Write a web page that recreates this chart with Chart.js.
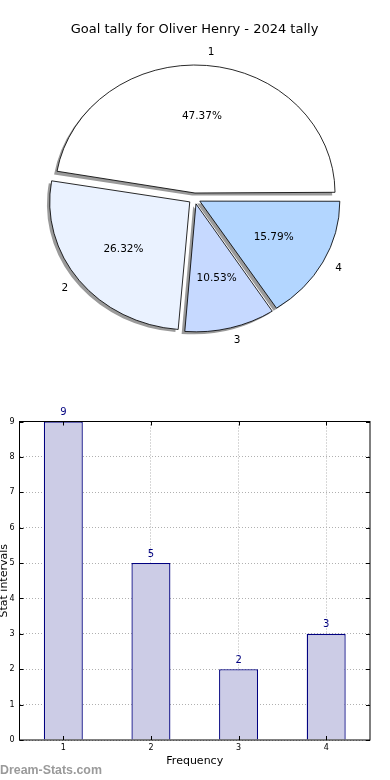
<!DOCTYPE html>
<html>
<head>
<meta charset="utf-8">
<script src="https://cdn.jsdelivr.net/npm/chart.js@4.4.1/dist/chart.umd.min.js"></script>
<style>
    html, body { margin: 0; padding: 0; background: #fff; }
    #quadro { position: relative; width: 390px; height: 780px; overflow: hidden; }
    #grafico-pizza { position: absolute; left: 0; top: 0; }
    #grafico-barra { position: absolute; left: 0; top: 390px; }
</style>
</head>
<body>
<div id="quadro">
    <canvas id="grafico-pizza" width="390" height="390"></canvas>
    <canvas id="grafico-barra" width="390" height="390"></canvas>
</div>
<script>
// dados
const titulo      = 'Goal tally for Oliver Henry - 2024 tally';
const categorias  = ['1', '2', '3', '4'];
const valores     = [9, 5, 2, 3];
const coresFatia  = ['#ffffff', '#eaf2ff', '#c6d9ff', '#b3d6ff'];
const ticksY      = [0, 1, 2, 3, 4, 5, 6, 7, 8, 9];
const tituloX     = 'Frequency';
const tituloY     = 'Stat intervals';
const marcaDagua  = 'Dream-Stats.com';

const FONTE = '"DejaVu Sans", sans-serif';
const ESCALA_X = 1.094;     // a pizza original e achatada (elipse)
const DESLOC   = 5.5;       // explode das fatias
const RAIO     = 128;

const total = valores.reduce((a, b) => a + b, 0);

// chart.js desenha no sentido horario; invertendo fica igual ao original
const pizzaLabels  = categorias.slice().reverse();
const pizzaValores = valores.slice().reverse();
const pizzaCores   = coresFatia.slice().reverse();

function aplicarElipse(chart) {
    const el = chart.getDatasetMeta(0).data[0];
    const ctx = chart.ctx;
    ctx.translate(el.x, 0);
    ctx.scale(ESCALA_X, 1);
    ctx.translate(-el.x, 0);
}

const pluginPizza = {
    id: 'pizzaElipse',
    beforeDatasetsDraw(chart) {
        const ctx = chart.ctx;
        const arcos = chart.getDatasetMeta(0).data;
        // o chart.js aumenta o raio das fatias estreitas quando ha offset; compensa
        arcos.forEach(a => {
            const circ = a.endAngle - a.startAngle;
            const fix = 1 - Math.sin(Math.min(Math.PI, circ));
            a.outerRadius = RAIO - DESLOC * fix;
        });
        ctx.save();
        aplicarElipse(chart);
        // sombras primeiro
        ctx.save();
        ctx.translate(-2.8 / ESCALA_X, 2.5);
        ctx.fillStyle = '#9a9a9a';
        arcos.forEach(a => {
            const meio = (a.startAngle + a.endAngle) / 2;
            const cx = a.x + Math.cos(meio) * DESLOC;
            const cy = a.y + Math.sin(meio) * DESLOC;
            ctx.beginPath();
            ctx.moveTo(cx, cy);
            ctx.arc(cx, cy, RAIO, a.startAngle, a.endAngle);
            ctx.closePath();
            ctx.fill();
        });
        ctx.restore();
    },
    afterDatasetsDraw(chart) {
        const ctx = chart.ctx;
        ctx.restore();
        ctx.save();
        ctx.fillStyle = '#000';
        ctx.font = '10.5px ' + FONTE;
        ctx.textBaseline = 'middle';
        chart.getDatasetMeta(0).data.forEach((a, i) => {
            const meio = (a.startAngle + a.endAngle) / 2;
            const c = Math.cos(meio), s = Math.sin(meio);
            const sx = a.x + c * DESLOC * ESCALA_X;
            const sy = a.y + s * DESLOC;
            const rx = RAIO * ESCALA_X, ry = RAIO;
            const pct = (pizzaValores[i] / total * 100).toFixed(2) + '%';
            ctx.textAlign = 'center';
            ctx.fillText(pct, sx + c * rx * 0.6, sy + s * ry * 0.6);
            ctx.textAlign = c >= 0 ? 'left' : 'right';
            ctx.fillText(pizzaLabels[i], sx + c * rx * 1.1, sy + s * ry * 1.1);
        });
        ctx.restore();
    }
};

new Chart(document.getElementById('grafico-pizza'), {
    type: 'pie',
    data: {
        labels: pizzaLabels,
        datasets: [{
            data: pizzaValores,
            backgroundColor: pizzaCores,
            borderColor: '#000',
            borderWidth: 0.8,
            offset: 4 * DESLOC,
            clip: false,
        }]
    },
    options: {
        responsive: false,
        animation: false,
        rotation: 90,
        radius: RAIO,
        layout: { padding: { left: 0, right: 1, top: 0, bottom: 40.6 } },
        plugins: {
            legend: { display: false },
            tooltip: { enabled: false },
            title: {
                display: true,
                text: titulo,
                color: '#000',
                font: { family: FONTE, size: 13, weight: 'normal', lineHeight: 1.2 },
                padding: { top: 22, bottom: 10 },
            }
        }
    },
    plugins: [pluginPizza]
});

const pluginBarra = {
    id: 'molduraBarra',
    afterDraw(chart) {
        const ctx = chart.ctx;
        const a = chart.chartArea;
        const sx = chart.scales.x, sy = chart.scales.y;
        ctx.save();
        ctx.strokeStyle = '#000';
        ctx.lineWidth = 1;
        ctx.strokeRect(a.left, a.top, a.right - a.left, a.bottom - a.top);
        // marcas para dentro, como no original
        ctx.beginPath();
        ticksY.forEach(v => {
            const y = Math.round(sy.getPixelForValue(v)) + 0.5;
            ctx.moveTo(a.left, y);  ctx.lineTo(a.left + 4, y);
            ctx.moveTo(a.right, y); ctx.lineTo(a.right - 4, y);
        });
        categorias.forEach((c, i) => {
            const x = Math.round(sx.getPixelForValue(i)) + 0.5;
            ctx.moveTo(x, a.bottom); ctx.lineTo(x, a.bottom - 4);
            ctx.moveTo(x, a.top);    ctx.lineTo(x, a.top + 4);
        });
        ctx.stroke();

        // valores acima das barras
        ctx.fillStyle = '#000080';
        ctx.font = '10px ' + FONTE;
        ctx.textAlign = 'center';
        ctx.textBaseline = 'alphabetic';
        chart.getDatasetMeta(0).data.forEach((b, i) => {
            ctx.fillText(String(valores[i]), b.x, b.y - 6.5);
        });

        ctx.fillStyle = '#9a9a9a';
        ctx.font = 'bold 12.4px "Liberation Sans", sans-serif';
        ctx.textAlign = 'left';
        ctx.fillText(marcaDagua, 0, 384.3);
        ctx.restore();
    }
};

new Chart(document.getElementById('grafico-barra'), {
    type: 'bar',
    data: {
        labels: categorias,
        datasets: [{
            data: valores,
            backgroundColor: '#ccccE6',
            borderColor: '#000080',
            borderWidth: 1.3,
            barPercentage: 0.445,
            categoryPercentage: 1,
        }]
    },
    options: {
        responsive: false,
        animation: false,
        layout: { padding: { left: 0, right: 20, top: 31.5, bottom: 0 } },
        plugins: {
            legend: { display: false },
            tooltip: { enabled: false },
        },
        scales: {
            x: {
                z: 1,
                grid: { offset: false, color: '#b0b0b0', drawTicks: false },
                border: { display: false, dash: [1, 2] },
                ticks: { color: '#000', font: { family: FONTE, size: 8 }, padding: 3 },
                title: {
                    display: true, text: tituloX, color: '#000',
                    font: { family: FONTE, size: 11 }, padding: { top: 0, bottom: 12.7 }
                },
                afterFit: s => { s.height = 40; }
            },
            y: {
                z: 1,
                min: 0, max: 9,
                grid: { color: '#b0b0b0', drawTicks: false },
                border: { display: false, dash: [1, 2] },
                ticks: { stepSize: 1, color: '#000', font: { family: FONTE, size: 8 }, padding: 5 },
                title: {
                    display: true, text: tituloY, color: '#000',
                    font: { family: FONTE, size: 11 }, padding: { top: -2.6, bottom: 0 }
                },
                afterFit: s => { s.width = 19.5; }
            }
        }
    },
    plugins: [pluginBarra]
});
</script>
</body>
</html>
